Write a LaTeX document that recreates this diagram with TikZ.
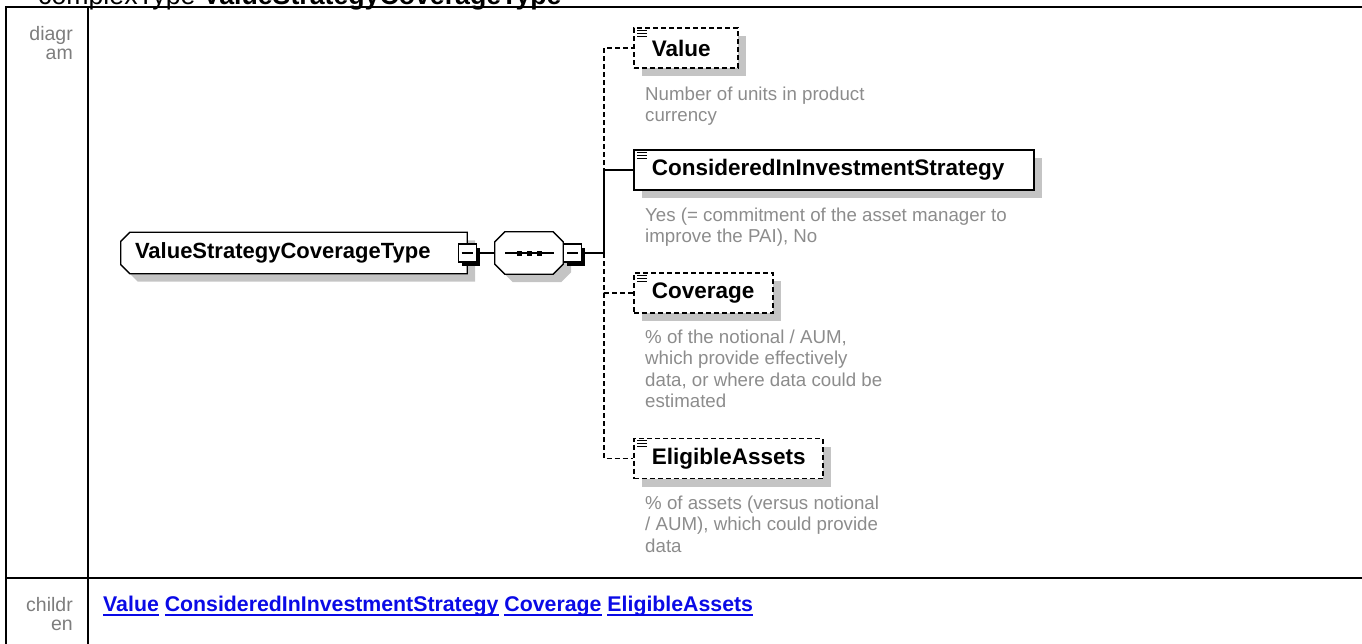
\documentclass[tikz,border=0pt]{standalone}
\usepackage{fontspec}
\setmainfont{Liberation Sans}
\newcommand\ulword[1]{\setbox0\hbox{#1}\rlap{\rule[-4.5pt]{\wd0}{1.7pt}}\box0\relax}
\usetikzlibrary{calc,shadows,backgrounds}
\definecolor{annogray}{RGB}{140,140,140}
\definecolor{shadegray}{RGB}{196,196,196}
\definecolor{labelgray}{RGB}{125,125,125}
\definecolor{linkblue}{RGB}{10,10,230}
\tikzset{
  tableline/.style={line width=2pt},
  tablelabel/.style={font=\fontsize{19.5}{19}\selectfont, text=labelgray, inner sep=0pt, anchor=base east},
  elbox/.style={draw, fill=white, line width=1.6pt, minimum height=40pt, inner ysep=0pt, inner xsep=18pt,
    align=left, anchor=west, font=\fontsize{22.5}{26}\selectfont\bfseries,
    drop shadow={shadow xshift=8pt, shadow yshift=-8pt, fill=shadegray, opacity=1, draw=none}},
  optbox/.style={elbox, dash pattern=on 5pt off 3pt},
  annotext/.style={anchor=north west, inner sep=0pt, align=left, font=\fontsize{18.7}{21.5}\selectfont, text=annogray},
  typenode/.style={minimum width=346pt, minimum height=41pt, inner xsep=14pt, inner ysep=0pt, text width=318pt,
    align=left, font=\fontsize{22}{26}\selectfont\bfseries},
  seqnode/.style={minimum width=68pt, minimum height=42pt, inner sep=0pt},
  minusbox/.style={draw, fill=white, line width=1.2pt, minimum size=18pt, inner sep=0pt,
    drop shadow={shadow xshift=3.5pt, shadow yshift=-3.5pt, fill=black, opacity=1, draw=none}},
  conn/.style={line width=1.3pt},
  optconn/.style={conn, dash pattern=on 5pt off 3pt},
  icon/.style={line width=1.1pt}
}
\begin{document}
\begin{tikzpicture}[x=1pt,y=-1pt]
\useasboundingbox (0,0) rectangle (1362,643);

% title (cut off at the top, as in the reference)
\node[anchor=base west, inner sep=0pt, font=\fontsize{26.7}{30}\selectfont] (title) at (38,4)
  {complexType \textbf{ValueStrategyCoverageType}};

% table frame
\draw[tableline] (5.7,660) -- (5.7,7) -- (1380,7);
\draw[tableline] (87.7,7) -- (87.7,660);
\draw[tableline] (5.7,578) -- (1380,578);

\node[tablelabel] (lbd1) at (73,40) {diagr};
\node[tablelabel] (lbd2) at (73,59) {am};
\node[tablelabel] (lbc1) at (73,611) {childr};
\node[tablelabel] (lbc2) at (73,630) {en};

% type node
\node[typenode] (ctype) at (294,253) {ValueStrategyCoverageType};
\node[seqnode] (seq) at (529,253) {};

\begin{scope}[on background layer]
  \fill[shadegray] ($(ctype.north west)+(17,8)$) -- ($(ctype.north east)+(8,8)$) -- ($(ctype.south east)+(8,8)$)
     -- ($(ctype.south west)+(17,8)$) -- ($(ctype.south west)+(8,-1)$) -- ($(ctype.north west)+(8,17)$) -- cycle;
  \draw[line width=1.3pt, fill=white] ($(ctype.north west)+(9,0)$) -- (ctype.north east) -- (ctype.south east)
     -- ($(ctype.south west)+(9,0)$) -- ($(ctype.south west)+(0,-9)$) -- ($(ctype.north west)+(0,9)$) -- cycle;
  \fill[shadegray] ($(seq.north west)+(18,8)$) -- ($(seq.north east)+(-2,8)$) -- ($(seq.north east)+(8,18)$)
     -- ($(seq.south east)+(8,-2)$) -- ($(seq.south east)+(-2,8)$) -- ($(seq.south west)+(18,8)$)
     -- ($(seq.south west)+(8,-2)$) -- ($(seq.north west)+(8,18)$) -- cycle;
  \draw[line width=1.3pt, fill=white] ($(seq.north west)+(10,0)$) -- ($(seq.north east)+(-10,0)$) -- ($(seq.north east)+(0,10)$)
     -- ($(seq.south east)+(0,-10)$) -- ($(seq.south east)+(-10,0)$) -- ($(seq.south west)+(10,0)$)
     -- ($(seq.south west)+(0,-10)$) -- ($(seq.north west)+(0,10)$) -- cycle;
\end{scope}

% sequence symbol
\draw[line width=1.3pt] ($(seq.center)+(-24,0)$) -- ($(seq.center)+(25,0)$);
\foreach \dx in {-10,0,10}
  \fill ($(seq.center)+(\dx-2.5,-2.5)$) rectangle ++(5,5);

% expand boxes
\node[minusbox] (m1) at (ctype.east) {};
\draw[line width=1.2pt] ($(m1.west)+(4,0)$) -- ($(m1.east)+(-4,0)$);
\node[minusbox, anchor=west] (m2) at (seq.east) {};
\draw[line width=1.2pt] ($(m2.west)+(4,0)$) -- ($(m2.east)+(-4,0)$);

\coordinate (bus) at (604,253);

% child elements
\node[optbox, text width=68pt] (val) at (633,48) {Value};
\node[elbox, text width=364pt] (cis) at (633,170) {ConsideredInInvestmentStrategy};
\node[optbox, text width=103pt] (cov) at (633,293) {Coverage};
\node[optbox, text width=153pt] (elig) at (633,458.5) {EligibleAssets};

\foreach \n in {val,cis,cov,elig}{
  \foreach \dy in {3,6,9}
    \draw[icon] ($(\n.north west)+(4,\dy)$) -- ++(10,0);
}

% connectors
\draw[conn] (m1.east) -- (seq.west);
\draw[conn] (m2.east) -- (bus);
\draw[optconn] (bus) |- (val.west);
\draw[optconn] (bus) |- (cov.west);
\draw[optconn] (bus) |- (elig.west);
\draw[conn] (bus) |- (cis.west);

% annotations
\node[annotext] (valnote) at (645,84.95) {\strut Number of units in product\\currency};
\node[annotext] (cisnote) at (645,205.95) {\strut Yes (= commitment of the asset manager to\\improve the PAI), No};
\node[annotext] (covnote) at (645,327.95) {\strut \% of the notional / AUM,\\which provide effectively\\data, or where data could be\\estimated};
\node[annotext] (elignote) at (645,493.95) {\strut \% of assets (versus notional\\/ AUM), which could provide\\data};

% children links
\node[anchor=base west, inner sep=0pt, font=\fontsize{21.3}{24}\selectfont\bfseries, text=linkblue] (links) at (103,611)
  {\ulword{Value} \ulword{ConsideredInInvestmentStrategy} \ulword{Coverage} \ulword{EligibleAssets}};
\end{tikzpicture}
\end{document}
